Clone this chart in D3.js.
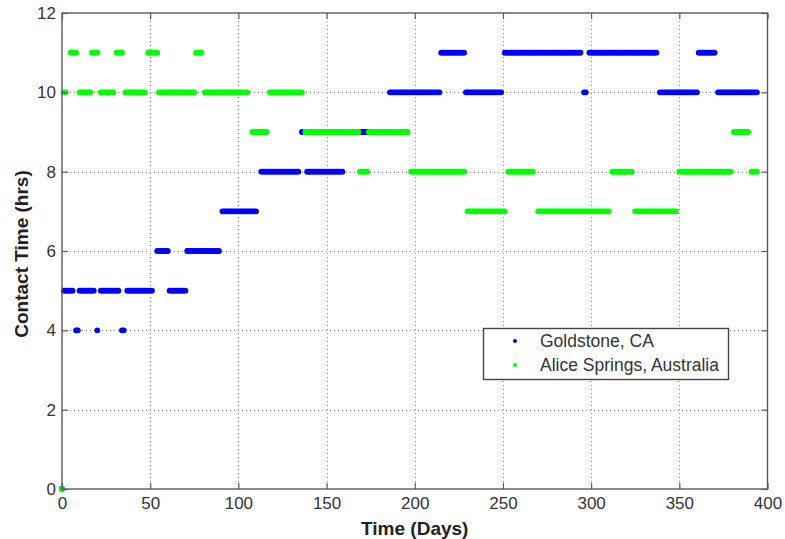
<!DOCTYPE html>
<html>
<head>
<meta charset="utf-8">
<script src="https://cdn.jsdelivr.net/npm/d3@7/dist/d3.min.js"></script>
<style>
  body { margin: 0; background: #fff; }
  svg { display: block; }
  text { font-family: "Liberation Sans", Arial, Helvetica, sans-serif; }
</style>
</head>
<body>
<svg id="chart" width="785" height="539"></svg>
<script>
// Axis ticks
const xTicks = [0, 50, 100, 150, 200, 250, 300, 350, 400];
const yTicks = [0, 2, 4, 6, 8, 10, 12];

// Legend entries
const seriesNames = ["Goldstone, CA", "Alice Springs, Australia"];
const seriesColors = ["#0000ff", "#00ff00"];

// Daily contact time per ground station, as runs: [first day, last day, hours]
const goldstoneRuns = [
  [0, 0, 0], [1, 6, 5], [8, 9, 4], [10, 18, 5], [20, 20, 4], [22, 32, 5],
  [34, 35, 4], [37, 51, 5], [54, 60, 6], [61, 70, 5], [71, 89, 6],
  [91, 110, 7], [113, 134, 8], [136, 136, 9], [139, 159, 8], [170, 173, 9],
  [186, 214, 10], [215, 228, 11], [229, 249, 10], [251, 294, 11],
  [296, 297, 10], [299, 337, 11], [339, 360, 10], [361, 370, 11], [372, 394, 10]
];
const aliceSpringsRuns = [
  [0, 0, 0], [1, 2, 10], [5, 8, 11], [10, 16, 10], [17, 20, 11], [22, 29, 10],
  [31, 34, 11], [36, 47, 10], [49, 54, 11], [55, 75, 10], [76, 79, 11],
  [81, 105, 10], [108, 116, 9], [118, 136, 10], [138, 168, 9], [169, 173, 8],
  [174, 196, 9], [198, 228, 8], [230, 251, 7], [253, 267, 8], [270, 310, 7],
  [312, 323, 8], [325, 348, 7], [350, 379, 8], [381, 389, 9], [391, 394, 8]
];

// One point per day inside each run
function toDays(runs) {
  const pts = [];
  runs.forEach(([a, b, h]) => { for (let d = a; d <= b; d++) pts.push({ day: d, hours: h }); });
  return pts;
}
const series = [toDays(goldstoneRuns), toDays(aliceSpringsRuns)];

const svg = d3.select("#chart");
const plot = { left: 62, right: 767.5, top: 13, bottom: 489 };

const x = d3.scaleLinear().domain([0, 400]).range([plot.left, plot.right]);
const y = d3.scaleLinear().domain([0, 12]).range([plot.bottom, plot.top]);

const axisColor = "#5a5a5a";
const labelColor = "#333";

// Dotted grid
const grid = svg.append("g").attr("stroke", "#9a9a9a").attr("stroke-width", 1)
  .attr("stroke-dasharray", "1,3");
grid.selectAll("line.gx").data(xTicks.slice(1, -1)).join("line")
  .attr("x1", d => Math.round(x(d)) + 0.5).attr("x2", d => Math.round(x(d)) + 0.5)
  .attr("y1", plot.top).attr("y2", plot.bottom);
grid.selectAll("line.gy").data(yTicks.slice(1, -1)).join("line")
  .attr("y1", d => Math.round(y(d)) + 0.5).attr("y2", d => Math.round(y(d)) + 0.5)
  .attr("x1", plot.left).attr("x2", plot.right);

// Points: Goldstone first, Alice Springs on top
series.forEach((pts, i) => {
  svg.append("g").attr("fill", seriesColors[i])
    .selectAll("circle").data(pts).join("circle")
    .attr("cx", d => x(d.day)).attr("cy", d => y(d.hours)).attr("r", 2.9);
});

// Axes with inward ticks on all four sides
const tickLen = 6;
const xAxisB = d3.axisBottom(x).tickValues(xTicks).tickSize(-tickLen).tickPadding(6).tickFormat(d3.format("d"));
const xAxisT = d3.axisTop(x).tickValues(xTicks).tickSize(-tickLen).tickFormat("");
const yAxisL = d3.axisLeft(y).tickValues(yTicks).tickSize(-tickLen).tickPadding(6).tickFormat(d3.format("d"));
const yAxisR = d3.axisRight(y).tickValues(yTicks).tickSize(-tickLen).tickFormat("");

function styleAxis(g) {
  g.select(".domain").remove();
  g.selectAll(".tick line").attr("stroke", axisColor).attr("stroke-width", 1.2);
  g.selectAll(".tick text").attr("fill", labelColor).attr("font-size", 17)
    .attr("font-family", "'Liberation Sans', Arial, sans-serif");
}
svg.append("g").attr("transform", `translate(0,${plot.bottom})`).call(xAxisB).call(styleAxis)
  .selectAll(".tick text").attr("dy", "0.8em");
svg.append("g").attr("transform", `translate(0,${plot.top})`).call(xAxisT).call(styleAxis);
svg.append("g").attr("transform", `translate(${plot.left},0)`).call(yAxisL).call(styleAxis);
svg.append("g").attr("transform", `translate(${plot.right},0)`).call(yAxisR).call(styleAxis);

// Plot frame
svg.append("rect").attr("x", plot.left).attr("y", plot.top)
  .attr("width", plot.right - plot.left).attr("height", plot.bottom - plot.top)
  .attr("fill", "none").attr("stroke", axisColor).attr("stroke-width", 1.4);

// Axis titles
svg.append("text").attr("x", (plot.left + plot.right) / 2).attr("y", 535)
  .attr("text-anchor", "middle").attr("font-size", 19).attr("font-weight", "bold")
  .attr("fill", "#222").text("Time (Days)");
svg.append("text").attr("transform", `translate(28,${(plot.top + plot.bottom) / 2 + 3}) rotate(-90)`)
  .attr("text-anchor", "middle").attr("font-size", 19).attr("font-weight", "bold")
  .attr("fill", "#222").text("Contact Time (hrs)");

// Legend
const lg = svg.append("g");
lg.append("rect").attr("x", 483.5).attr("y", 328.5).attr("width", 245).attr("height", 51)
  .attr("fill", "#fff").attr("stroke", "#444").attr("stroke-width", 1.4);
seriesNames.forEach((name, i) => {
  const cy = 341 + i * 24;
  lg.append("circle").attr("cx", 515).attr("cy", cy).attr("r", 2).attr("fill", seriesColors[i]);
  lg.append("text").attr("x", 540).attr("y", cy + 6).attr("font-size", 17.5)
    .attr("fill", "#333").text(name);
});
</script>
</body>
</html>
